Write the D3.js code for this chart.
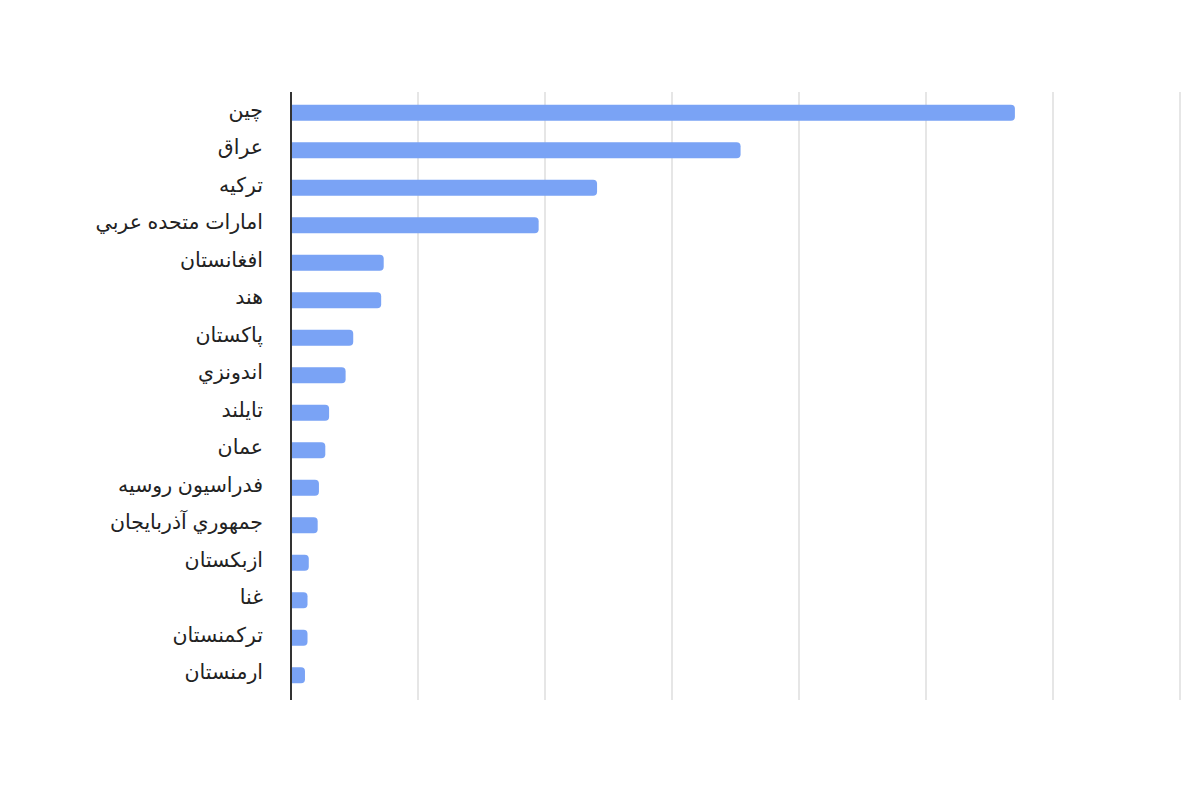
<!DOCTYPE html>
<html>
<head>
<meta charset="utf-8">
<script src="https://cdn.jsdelivr.net/npm/d3@7"></script>
<style>
  body { margin: 0; background: #fff; }
  svg { display: block; }
</style>
</head>
<body>
<svg id="chart"></svg>
<script>
// داده ها
const countries = ["چین", "عراق", "ترکیه", "امارات متحده عربي", "افغانستان", "هند", "پاکستان", "اندونزي",
    "تایلند", "عمان", "فدراسیون روسیه", "جمهوري آذربایجان", "ازبکستان", "غنا", "ترکمنستان", "ارمنستان"];
const values = [5.70, 3.54, 2.41, 1.95, 0.73, 0.71, 0.49, 0.43, 0.30, 0.27, 0.22, 0.21, 0.14, 0.13, 0.13, 0.11];
const gridTicks = [0, 1, 2, 3, 4, 5, 6, 7];

const width = 1200, height = 800;
const margin = {left: 291, right: 20, top: 92, bottom: 100};

const svg = d3.select("#chart")
    .attr("width", width)
    .attr("height", height);

const x = d3.scaleLinear()
    .domain([0, 7])
    .range([margin.left, 1180]);

const y = d3.scaleBand()
    .domain(countries)
    .range([88, 700])
    .paddingInner(0.575)
    .paddingOuter(0.448);

// خطوط شبکه
svg.append("g")
    .selectAll("line")
    .data(gridTicks.slice(1))
    .enter()
    .append("line")
    .attr("x1", d => x(d))
    .attr("x2", d => x(d))
    .attr("y1", margin.top)
    .attr("y2", 700)
    .attr("stroke", "#dedede")
    .attr("stroke-width", 1.5);

// میله ها - فقط سر سمت راست گرد
const r = 4;
function barPath(d, i) {
    let x0 = x(0), x1 = x(d), y0 = y(countries[i]), h = y.bandwidth();
    let rr = Math.min(r, (x1 - x0) / 2);
    return `M${x0},${y0} H${x1 - rr} Q${x1},${y0} ${x1},${y0 + rr} V${y0 + h - rr} Q${x1},${y0 + h} ${x1 - rr},${y0 + h} H${x0} Z`;
}

svg.append("g")
    .selectAll("path")
    .data(values)
    .enter()
    .append("path")
    .attr("d", barPath)
    .attr("fill", "#7aa3f5");

// محور عمودی
const yAxis = d3.axisLeft(y).tickSize(0).tickPadding(28);
const gy = svg.append("g")
    .attr("transform", "translate(" + x(0) + ",0)")
    .call(yAxis);
gy.select(".domain")
    .attr("stroke", "#333")
    .attr("stroke-width", 2)
    .attr("d", `M0,${margin.top}V700`);
gy.selectAll("text")
    .style("font-family", "'Liberation Sans', Arial, 'DejaVu Sans', sans-serif")
    .style("font-size", "20.5px")
    .attr("dy", "0.2em")
    .attr("fill", "#222");
</script>
</body>
</html>
